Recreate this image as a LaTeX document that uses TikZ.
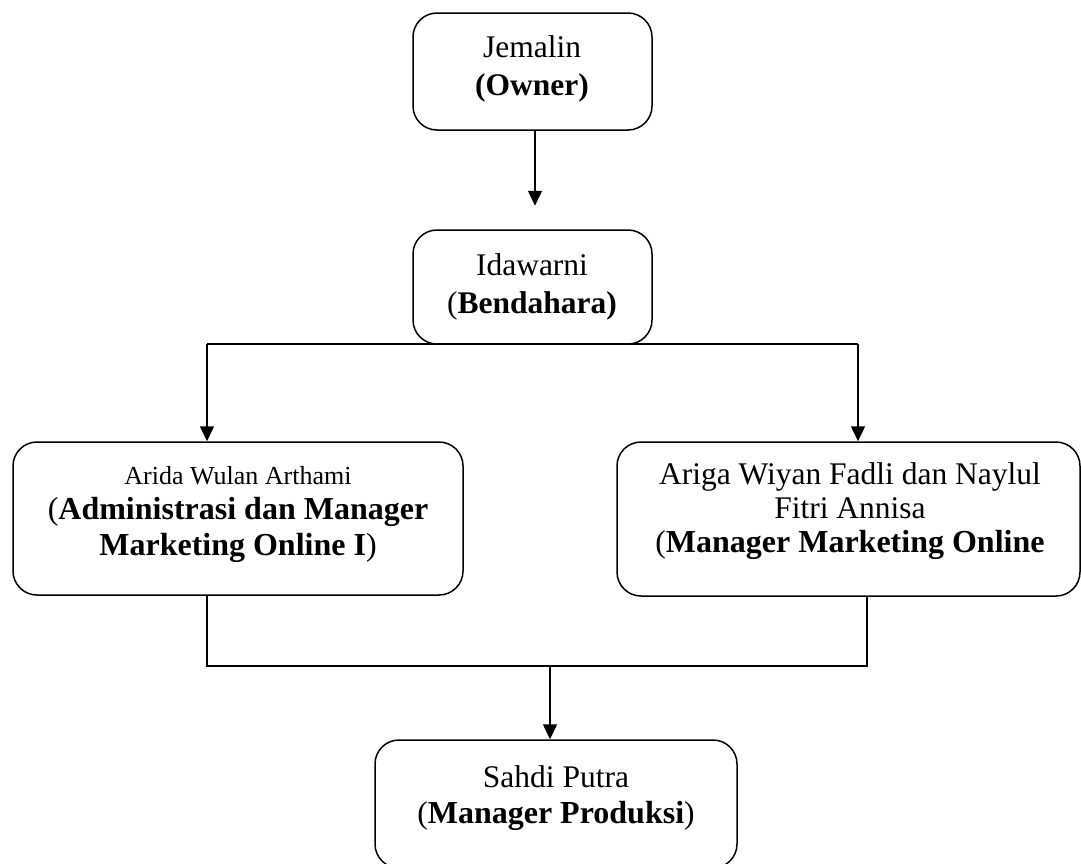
\documentclass[tikz,border=0pt]{standalone}
\usepackage{fontspec}
\setmainfont{Liberation Serif}
\usetikzlibrary{arrows.meta,calc}
\begin{document}
\begin{tikzpicture}[x=1pt,y=-1pt,
  box/.style={draw, line width=1.5pt, rounded corners=24pt, inner sep=0pt},
  lbl/.style={align=center, inner sep=0pt, anchor=base},
  conn/.style={line width=1.5pt},
  arr/.style={conn, -{Triangle[width=14pt,length=15pt]}}]
\useasboundingbox (0,0) rectangle (1081,863);
\fill[white] (0,0) rectangle (1081,863);
% boxes
\node[box, minimum width=239pt, minimum height=117pt] (owner) at (532.5,71.5) {};
\node[box, minimum width=239pt, minimum height=114pt] (bend) at (532.5,287) {};
\node[box, minimum width=450pt, minimum height=153pt] (left) at (238,518.5) {};
\node[box, minimum width=463pt, minimum height=154pt] (right) at (848.5,519) {};
\node[box, minimum width=362pt, minimum height=128pt] (prod) at (556,804) {};
% texts
\node[lbl, font=\fontsize{31.5}{38}\selectfont] (ownertxt) at (532,95) {Jemalin\\\textbf{(Owner)}};
\node[lbl, font=\fontsize{31.5}{38}\selectfont] (bendtxt) at (532,313) {Idawarni\\(\textbf{Bendahara)}};
\node[lbl, font=\fontsize{32}{35.5}\selectfont] (lefttxt) at (238,555) {{\fontsize{26}{35.5}\selectfont Arida Wulan Arthami}\\(\textbf{Administrasi dan Manager}\\\textbf{Marketing Online I})};
\node[lbl, font=\fontsize{31.5}{34}\selectfont] (righttxt) at (850,552) {Ariga Wiyan Fadli dan Naylul\\Fitri Annisa\\(\textbf{\fontsize{32}{34}\selectfont Manager Marketing Online}};
\node[lbl, font=\fontsize{31.5}{36}\selectfont] (prodtxt) at (556,823) {Sahdi Putra\\(\textbf{\fontsize{32}{36}\selectfont Manager Produksi})};
% connectors
\coordinate (a1) at ($(owner.south)+(2.5,75)$);
\draw[arr] (owner.south -| a1) -- (a1);
\coordinate (bl) at (207,344);
\coordinate (br) at (858,344);
\draw[conn] (bl) -- (br);
\draw[arr] (bl) -- (bl |- left.north);
\draw[arr] (br) -- (br |- right.north);
\coordinate (ml) at (207,666);
\coordinate (mr) at (867,666);
\coordinate (mm) at (550,666);
\draw[conn] (left.south -| ml) -- (ml) -- (mr) -- (right.south -| mr);
\draw[arr] (mm) -- (mm |- prod.north);
\end{tikzpicture}
\end{document}
